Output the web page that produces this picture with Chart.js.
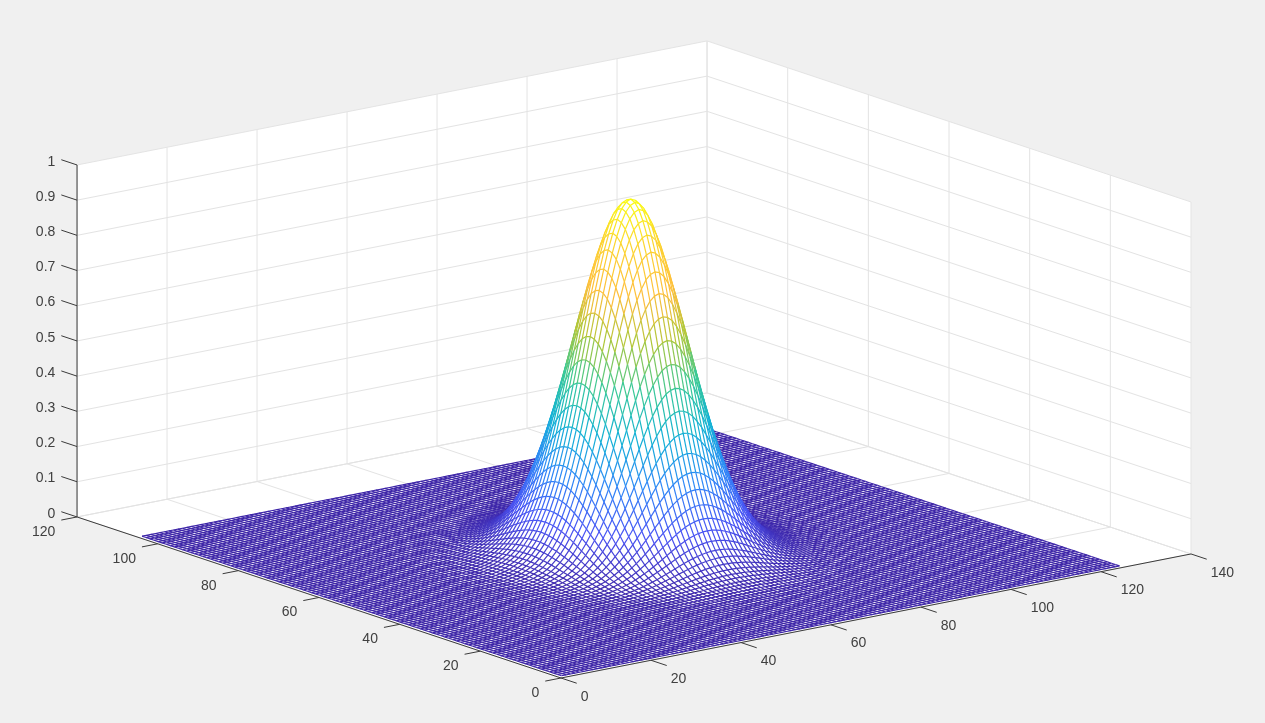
<!DOCTYPE html>
<html>
<head>
<meta charset="utf-8">
<style>
html, body { margin: 0; padding: 0; background: #f0f0f0; }
#wrap { position: relative; width: 1265px; height: 723px; }
</style>
<script src="https://cdn.jsdelivr.net/npm/chart.js@4/dist/chart.umd.min.js"></script>
</head>
<body>
<div id="wrap"><canvas id="myChart"></canvas></div>
<script>
const xTicks = [0, 20, 40, 60, 80, 100, 120, 140];
const yTicks = [0, 20, 40, 60, 80, 100, 120];
const zTicks = [0, 0.1, 0.2, 0.3, 0.4, 0.5, 0.6, 0.7, 0.8, 0.9, 1];

// mesh extent and peak position
const xCount = 125;
const yCount = 105;
const peakX = 63;
const peakY = 53;

// height of the hump per grid line away from the peak
const heightByOffset = [
    1, 0.994, 0.978, 0.950, 0.913, 0.868, 0.816, 0.758, 0.696, 0.632,
    0.568, 0.504, 0.443, 0.384, 0.330, 0.280, 0.235, 0.195, 0.160, 0.130,
    0.104, 0.082, 0.065, 0.050, 0.038, 0.029, 0.022, 0.016, 0.012, 0.009,
    0.006, 0.004, 0.003, 0.002, 0.001, 0.001
];

const parula = [
    [62, 38, 168], [72, 82, 244], [46, 135, 247], [18, 177, 214],
    [55, 200, 151], [171, 199, 57], [254, 190, 60], [252, 210, 48], [249, 251, 21]
];

const GRID = '#e3e3e3';
const AXIS = '#3a3a3a';
const TEXT = '#404040';

function project(x, y, z) {
    return { x: 561 + 4.5 * x - 4.033 * y, y: 678 - 0.886 * x - 1.342 * y - 352 * z };
}

function height(i, j) {
    const a = heightByOffset[Math.abs(i - peakX)] || 0;
    const b = heightByOffset[Math.abs(j - peakY)] || 0;
    return a * b;
}

function meshPoint(i, j) {
    const z = height(i, j);
    const p = project(i, j, z);
    p.z = z;
    return p;
}

function colorAt(z) {
    const t = Math.min(Math.max(z, 0), 1) * (parula.length - 1);
    const k = Math.min(Math.floor(t), parula.length - 2);
    const f = t - k;
    const c = parula[k].map((v, n) => Math.round(v + (parula[k + 1][n] - v) * f));
    return 'rgb(' + c.join(',') + ')';
}

function meshSegmentColor(ctx) {
    const data = ctx.chart.data.datasets[ctx.datasetIndex].data;
    const a = data[ctx.p0DataIndex];
    const b = data[ctx.p1DataIndex];
    return colorAt((a.z + b.z) / 2);
}

function meshLine(points) {
    return {
        data: points,
        showLine: true,
        borderWidth: 1.2,
        borderColor: colorAt(0),
        segment: { borderColor: meshSegmentColor }
    };
}

function straightLine(from, to, color) {
    return { data: [project(...from), project(...to)], showLine: true, borderWidth: 1, borderColor: color };
}

function buildMesh() {
    const out = [];
    const nearRow = [];
    for (let i = 1; i <= xCount; i++) nearRow.push(meshPoint(i, 1));
    out.push(meshLine(nearRow));
    // first dataset is painted last, so the strips go from the front corner backwards
    for (let j = 1; j < yCount; j++) {
        const cross = [];
        const farRow = [];
        for (let i = 1; i <= xCount; i++) {
            cross.push(meshPoint(i, j), meshPoint(i, j + 1), { x: NaN, y: NaN, z: 0 });
            farRow.push(meshPoint(i, j + 1));
        }
        const outline = [];
        for (let i = 1; i <= xCount; i++) outline.push(meshPoint(i, j));
        for (let i = xCount; i >= 1; i--) outline.push(meshPoint(i, j + 1));
        out.push(meshLine(cross));
        out.push(meshLine(farRow));
        out.push({ data: outline, showLine: true, borderWidth: 0, fill: 'shape', backgroundColor: '#ffffff' });
    }
    return out;
}

function buildBox() {
    const X = xTicks[xTicks.length - 1];
    const Y = yTicks[yTicks.length - 1];
    const dark = [];
    const grid = [];
    dark.push(straightLine([0, 0, 0], [X, 0, 0], AXIS));
    dark.push(straightLine([0, 0, 0], [0, Y, 0], AXIS));
    dark.push(straightLine([0, Y, 0], [0, Y, 1], AXIS));
    xTicks.forEach(x => {
        dark.push(straightLine([x, 0, 0], [x, -3.9, 0], AXIS));
        grid.push(straightLine([x, 0, 0], [x, Y, 0], GRID));
        grid.push(straightLine([x, Y, 0], [x, Y, 1], GRID));
    });
    yTicks.forEach(y => {
        dark.push(straightLine([0, y, 0], [-3.5, y, 0], AXIS));
        grid.push(straightLine([0, y, 0], [X, y, 0], GRID));
        grid.push(straightLine([X, y, 0], [X, y, 1], GRID));
    });
    zTicks.forEach(z => {
        dark.push(straightLine([0, Y, z], [0, Y + 3.9, z], AXIS));
        grid.push(straightLine([0, Y, z], [X, Y, z], GRID));
        grid.push(straightLine([X, Y, z], [X, 0, z], GRID));
    });
    const walls = {
        data: [[0, Y, 0], [0, 0, 0], [X, 0, 0], [X, 0, 1], [X, Y, 1], [0, Y, 1]].map(p => project(...p)),
        showLine: true, borderWidth: 0, fill: 'shape', backgroundColor: '#ffffff'
    };
    return [...dark, ...grid, walls];
}

const tickLabels = {
    id: 'tickLabels',
    afterDraw(chart) {
        const ctx = chart.ctx;
        ctx.save();
        ctx.font = '14px "Liberation Sans", Arial, sans-serif';
        ctx.fillStyle = TEXT;
        ctx.textBaseline = 'middle';
        const Y = yTicks[yTicks.length - 1];
        ctx.textAlign = 'left';
        xTicks.forEach(x => {
            const p = project(x, -3.9, 0);
            ctx.fillText(String(x), p.x + 4, p.y + 13.5);
        });
        ctx.textAlign = 'right';
        yTicks.forEach(y => {
            const p = project(-3.5, y, 0);
            ctx.fillText(String(y), p.x - 6, p.y + 12);
        });
        zTicks.forEach(z => {
            const p = project(0, Y + 3.9, z);
            ctx.fillText(String(z), p.x - 6, p.y + 2);
        });
        ctx.restore();
    }
};

function buildChart() {
    const ctx = document.getElementById('myChart').getContext('2d');
    return new Chart(ctx, {
        type: 'scatter',
        data: { datasets: [...buildMesh(), ...buildBox()] },
        options: {
            responsive: false,
            animation: false,
            events: [],
            layout: { padding: 0 },
            elements: { point: { radius: 0 }, line: { tension: 0 } },
            scales: {
                x: { type: 'linear', min: 0, max: 1265, display: false },
                y: { type: 'linear', min: 0, max: 723, reverse: true, display: false }
            },
            plugins: { legend: { display: false }, tooltip: { enabled: false } }
        },
        plugins: [tickLabels]
    });
}

const canvas = document.getElementById('myChart');
canvas.width = 1265;
canvas.height = 723;
window.addEventListener('load', () => {
    buildChart();
});
</script>
</body>
</html>
